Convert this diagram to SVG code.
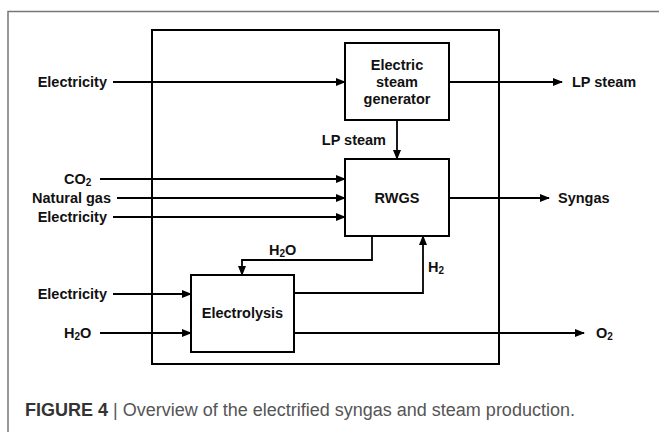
<svg xmlns="http://www.w3.org/2000/svg" width="659" height="432" viewBox="0 0 659 432">
<defs>
<marker id="ah" markerWidth="10" markerHeight="8" refX="9" refY="4" orient="auto" markerUnits="userSpaceOnUse">
<path d="M0,0 L10,4 L0,8 Z" fill="#000"/>
</marker>
<style>
.box{fill:#fff;stroke:#000;stroke-width:2}
.ln{fill:none;stroke:#000;stroke-width:1.8}
.t{font-family:"Liberation Sans",Arial,sans-serif;font-size:14.5px;font-weight:bold;fill:#111}
.c{font-family:"Liberation Sans",Arial,sans-serif;font-size:18px;fill:#555}
.sub{font-size:10px}
</style>
</defs>
<rect width="659" height="432" fill="#fff"/>
<path d="M8,432 V11.5 H659" fill="none" stroke="#777" stroke-width="1.5"/>
<g id="plant"><rect x="152" y="30" width="347" height="334" fill="none" stroke="#000" stroke-width="2"/></g>
<g id="connectors">
<line class="ln" x1="113" y1="82" x2="345" y2="82" marker-end="url(#ah)"/>
<line class="ln" x1="449" y1="82" x2="562" y2="82" marker-end="url(#ah)"/>
<line class="ln" x1="397" y1="120" x2="397" y2="159" marker-end="url(#ah)"/>
<line class="ln" x1="100" y1="179" x2="345" y2="179" marker-end="url(#ah)"/>
<line class="ln" x1="117" y1="198" x2="345" y2="198" marker-end="url(#ah)"/>
<line class="ln" x1="113" y1="217" x2="345" y2="217" marker-end="url(#ah)"/>
<line class="ln" x1="449" y1="198" x2="549" y2="198" marker-end="url(#ah)"/>
<path class="ln" d="M372,236 V260 H242 V275" marker-end="url(#ah)"/>
<path class="ln" d="M294,293 H423 V236" marker-end="url(#ah)"/>
<line class="ln" x1="113" y1="294" x2="191" y2="294" marker-end="url(#ah)"/>
<line class="ln" x1="100" y1="333" x2="191" y2="333" marker-end="url(#ah)"/>
<line class="ln" x1="294" y1="333" x2="584" y2="333" marker-end="url(#ah)"/>
</g>
<g id="steam-generator">
<rect class="box" x="345" y="43" width="104" height="77"/>
<text class="t" x="397" y="70" text-anchor="middle">Electric</text>
<text class="t" x="397" y="87" text-anchor="middle">steam</text>
<text class="t" x="397" y="104" text-anchor="middle">generator</text>
</g>
<g id="rwgs">
<rect class="box" x="345" y="159" width="104" height="77"/>
<text class="t" x="397" y="203" text-anchor="middle">RWGS</text>
</g>
<g id="electrolysis">
<rect class="box" x="191" y="275" width="103" height="77"/>
<text class="t" x="242.5" y="318" text-anchor="middle">Electrolysis</text>
</g>
<g id="labels">
<text class="t" x="107" y="87" text-anchor="end">Electricity</text>
<text class="t" x="572" y="87">LP steam</text>
<text class="t" x="386" y="145" text-anchor="end">LP steam</text>
<text class="t" x="64" y="184">CO<tspan class="sub" dy="2">2</tspan></text>
<text class="t" x="111" y="203" text-anchor="end">Natural gas</text>
<text class="t" x="107" y="222" text-anchor="end">Electricity</text>
<text class="t" x="558" y="203">Syngas</text>
<text class="t" x="269" y="255">H<tspan class="sub" dy="2">2</tspan><tspan dy="-2">O</tspan></text>
<text class="t" x="428" y="272">H<tspan class="sub" dy="2">2</tspan></text>
<text class="t" x="107" y="299" text-anchor="end">Electricity</text>
<text class="t" x="64" y="338">H<tspan class="sub" dy="2">2</tspan><tspan dy="-2">O</tspan></text>
<text class="t" x="596" y="338">O<tspan class="sub" dy="2">2</tspan></text>
</g>
<text class="c" x="25" y="416"><tspan font-weight="bold" fill="#333">FIGURE 4</tspan> | Overview of the electrified syngas and steam production.</text>
</svg>
